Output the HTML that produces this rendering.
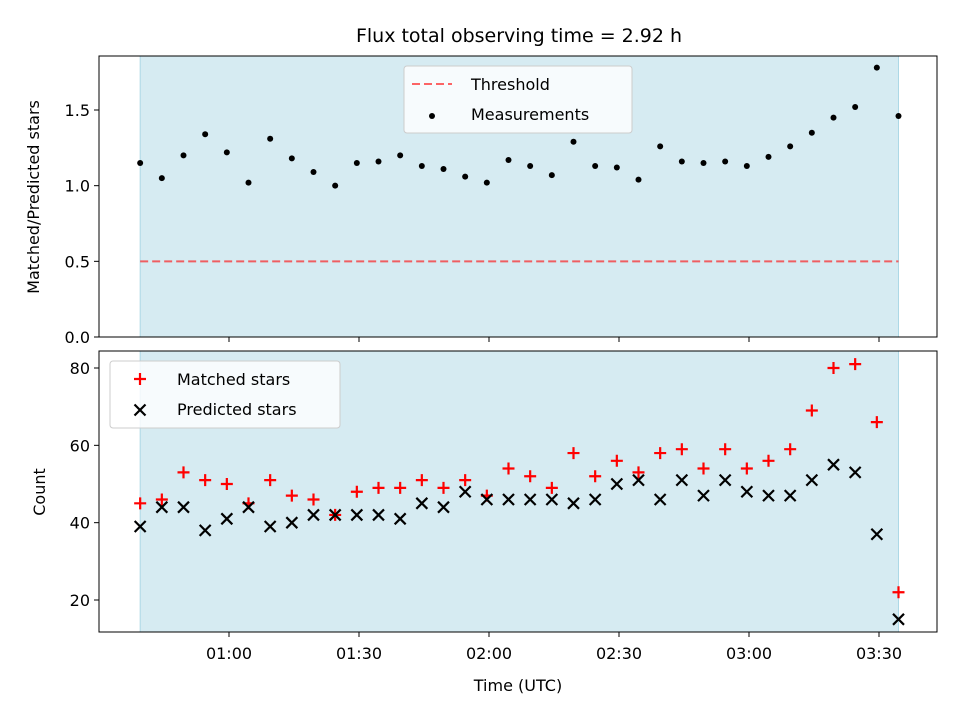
<!DOCTYPE html>
<html><head><meta charset="utf-8"><style>
body{margin:0;background:#fff;font-family:"Liberation Sans","DejaVu Sans",sans-serif;}
text{font-family:"DejaVu Sans","Liberation Sans",sans-serif;}
</style></head><body>
<svg id="c" width="960" height="720" viewBox="0 0 960 720" xmlns="http://www.w3.org/2000/svg">
<text x="519" y="42" font-size="19" text-anchor="middle">Flux total observing time = 2.92 h</text>
<g id="topPanel"></g><g id="botPanel"></g>
</svg>
<script>
const times=[39.5,44.5,49.5,54.5,59.5,64.5,69.5,74.5,79.5,84.5,89.5,94.5,99.5,104.5,109.5,114.5,119.5,124.5,129.5,134.5,139.5,144.5,149.5,154.5,159.5,164.5,169.5,174.5,179.5,184.5,189.5,194.5,199.5,204.5,209.5,214.5];
const ratio=[1.15,1.05,1.20,1.34,1.22,1.02,1.31,1.18,1.09,1.00,1.15,1.16,1.20,1.13,1.11,1.06,1.02,1.17,1.13,1.07,1.29,1.13,1.12,1.04,1.26,1.16,1.15,1.16,1.13,1.19,1.26,1.35,1.45,1.52,1.78,1.46];
const matched=[45,46,53,51,50,45,51,47,46,42,48,49,49,51,49,51,47,54,52,49,58,52,56,53,58,59,54,59,54,56,59,69,80,81,66,22];
const predicted=[39,44,44,38,41,44,39,40,42,42,42,42,41,45,44,48,46,46,46,46,45,46,50,51,46,51,47,51,48,47,47,51,55,53,37,15];
const threshold=0.5;
const xTickMin=[60,90,120,150,180,210];
const xTickLabels=["01:00","01:30","02:00","02:30","03:00","03:30"];
const topTicks=[0,0.5,1.0,1.5];
const topTickLabels=["0.0","0.5","1.0","1.5"];
const botTicks=[20,40,60,80];
const botTickLabels=["20","40","60","80"];

const NS="http://www.w3.org/2000/svg";
const X=m=>229+(m-60)*130/30;
const Yt=v=>337-v*151.33;
const Yb=v=>600-(v-20)*232/60;
function el(p,t,a){const e=document.createElementNS(NS,t);for(const k in a)e.setAttribute(k,a[k]);p.appendChild(e);return e;}
const topG=document.getElementById('topPanel'),botG=document.getElementById('botPanel');
const L=99,R=937;
function panel(g,y0,y1,ticks,labels,Y,name){
  const s=el(g,'rect',{x:X(times[0]),y:y0,width:X(times[times.length-1])-X(times[0]),height:y1-y0,fill:'#add8e6','fill-opacity':0.5,stroke:'#add8e6'});
  
  
  ticks.forEach((v,i)=>{const y=Y(v);
    el(g,'line',{x1:L-5,x2:L,y1:y,y2:y,stroke:'#000'});
    const t=el(g,'text',{x:L-9,y:y+6,'font-size':16,'text-anchor':'end'});t.textContent=labels[i];
    
    
  });
  xTickMin.forEach(m=>el(g,'line',{x1:X(m),x2:X(m),y1:y1,y2:y1+5,stroke:'#000'}));
}
function frame(g,y0,y1,name){const f=el(g,'rect',{x:L,y:y0,width:R-L,height:y1-y0,fill:'none',stroke:'#000','stroke-width':1});
  
  }
panel(topG,56,337,topTicks,topTickLabels,Yt,'top');
const th=el(topG,'line',{x1:X(times[0]),x2:X(times[times.length-1]),y1:Yt(threshold),y2:Yt(threshold),stroke:'#ff0000','stroke-opacity':0.6,'stroke-width':2,'stroke-dasharray':'8,4'});


ratio.forEach((v,i)=>{const c=el(topG,'circle',{cx:X(times[i]),cy:Yt(v),r:3,fill:'#000'});
  
  });
frame(topG,56,337,'top');
const yl=el(topG,'text',{x:0,y:0,'font-size':16,'text-anchor':'middle',transform:'translate(39,197) rotate(-90)'});yl.textContent='Matched/Predicted stars';


const lg=el(topG,'g',{});


el(lg,'rect',{x:404,y:66,width:228,height:67,rx:3,fill:'#fff','fill-opacity':0.8,stroke:'#ccc'});
el(lg,'line',{x1:412,x2:452,y1:84,y2:84,stroke:'#ff0000','stroke-opacity':0.6,'stroke-width':2,'stroke-dasharray':'8,4'});
const t1=el(lg,'text',{x:471,y:90,'font-size':16});t1.textContent='Threshold';
el(lg,'circle',{cx:432,cy:116,r:3,fill:'#000'});
const t2=el(lg,'text',{x:471,y:120,'font-size':16});t2.textContent='Measurements';
panel(botG,351,632,botTicks,botTickLabels,Yb,'bottom');
matched.forEach((v,i)=>{const x=X(times[i]),y=Yb(v);const p=el(botG,'path',{d:`M${x-6},${y}H${x+6}M${x},${y-6}V${y+6}`,stroke:'#ff0000','stroke-width':2.2});
  
  });
predicted.forEach((v,i)=>{const x=X(times[i]),y=Yb(v);const p=el(botG,'path',{d:`M${x-5.5},${y-5.5}L${x+5.5},${y+5.5}M${x-5.5},${y+5.5}L${x+5.5},${y-5.5}`,stroke:'#000','stroke-width':2.2});
  
  });
frame(botG,351,632,'bottom');
xTickMin.forEach((m,i)=>{const t=el(botG,'text',{x:X(m),y:659,'font-size':16,'text-anchor':'middle'});t.textContent=xTickLabels[i];
  
  });
const xl=el(botG,'text',{x:518,y:691,'font-size':16,'text-anchor':'middle'});xl.textContent='Time (UTC)';


const yl2=el(botG,'text',{x:0,y:0,'font-size':16,'text-anchor':'middle',transform:'translate(45,492) rotate(-90)'});yl2.textContent='Count';


const lg2=el(botG,'g',{});


el(lg2,'rect',{x:110,y:361,width:230,height:67,rx:3,fill:'#fff','fill-opacity':0.8,stroke:'#ccc'});
el(lg2,'path',{d:'M134,379H146M140,373V385',stroke:'#ff0000','stroke-width':2.2});
const t3=el(lg2,'text',{x:177,y:385,'font-size':16});t3.textContent='Matched stars';
el(lg2,'path',{d:'M134.5,404.5L145.5,415.5M134.5,415.5L145.5,404.5',stroke:'#000','stroke-width':2.2});
const t4=el(lg2,'text',{x:177,y:415,'font-size':16});t4.textContent='Predicted stars';
</script>
</body></html>
